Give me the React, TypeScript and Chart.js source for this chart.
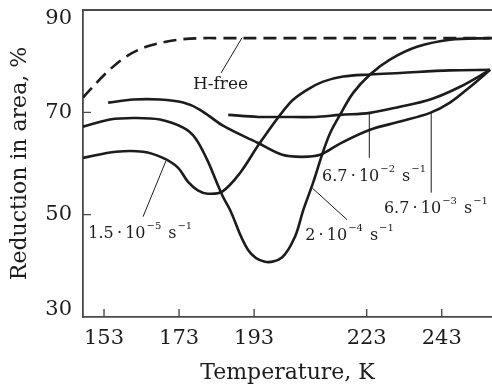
import React, { useEffect, useRef } from "react";
import { Chart, registerables } from "chart.js";

Chart.register(...registerables);

const FONT = '"DejaVu Serif", "Liberation Serif", serif';
const INK = "#1c1c1c";
const AXIS = "#4a4a4a";

// axes
const xMin = 147.4;
const xMax = 256.4;
const yMin = 30;
const yMax = 90;
const xTickValues = [153, 173, 193, 223, 243];
const yTickValues = [30, 50, 70, 90];

// H-free (dashed)
const hFreeT = [147.4, 153.6, 158.9, 164.2, 169.5, 174.1, 179.4, 184.0, 256.4];
const hFreeRA = [72.9, 77.7, 80.9, 82.8, 83.8, 84.3, 84.5, 84.5, 84.5];

// 1.5e-5 s^-1
const r15e5T = [147.4, 156.2, 163.4, 168.7, 172.7, 175.4, 178.1, 180.7, 184.5, 189.3, 194.6, 202.6, 207.1, 211.4, 216.7, 223.9, 231.9, 245.2, 255.9];
const r15e5RA = [61.1, 62.3, 62.3, 61.1, 59.2, 56.4, 54.7, 54.1, 54.5, 58.2, 64.1, 71.9, 74.4, 76.0, 77.0, 77.4, 77.7, 78.2, 78.3];

// 2e-4 s^-1
const r2e4T = [147.4, 154.6, 160.8, 167.9, 174.1, 177.3, 180.5, 183.1, 184.7, 186.6, 191.4, 195.9, 200.5, 203.9, 206.1, 208.7, 211.1, 213.3, 215.9, 219.4, 223.9, 229.2, 236.4, 245.2, 255.9];
const r2e4RA = [67.2, 68.6, 68.9, 68.6, 67.0, 65.0, 60.7, 56.2, 53.5, 50.9, 43.1, 40.8, 41.7, 45.7, 50.9, 56.2, 61.7, 66.0, 69.5, 73.8, 77.4, 80.3, 82.8, 84.2, 84.5];

// 6.7e-3 s^-1
const r67e3T = [154.1, 160.8, 167.9, 174.1, 178.6, 184.7, 193.8, 200.5, 205.8, 210.6, 215.9, 223.9, 231.9, 239.9, 245.2, 250.6, 255.9];
const r67e3RA = [71.9, 72.5, 72.5, 71.9, 70.5, 67.4, 64.1, 61.7, 61.3, 61.7, 63.9, 66.6, 68.2, 69.9, 71.9, 75.0, 78.3];

// 6.7e-2 s^-1
const r67e2T = [186.1, 194.1, 200.5, 209.3, 215.9, 223.9, 231.9, 239.9, 247.9, 255.9];
const r67e2RA = [69.5, 69.1, 69.1, 69.1, 69.5, 69.9, 71.1, 72.5, 75.0, 78.3];

// annotation labels (data coordinates: text start / baseline)
const rateLabels = [
  { mant: "1.5\u2009\u00b7\u200910", exp: "5", x: 148.8, y: 45.5 },
  { mant: "2\u2009\u00b7\u200910", exp: "4", x: 206.6, y: 45.1 },
  { mant: "6.7\u2009\u00b7\u200910", exp: "2", x: 211.1, y: 56.6 },
  { mant: "6.7\u2009\u00b7\u200910", exp: "3", x: 227.6, y: 50.4 },
];
const hFreeLabel = { text: "H-free", x: 176.7, y: 74.6 };
const leaders = [
  { x1: 189.8, y1: 84.6, x2: 184.2, y2: 77.7 },
  { x1: 169.5, y1: 60.5, x2: 163.4, y2: 49.6 },
  { x1: 208.5, y1: 55.2, x2: 217.8, y2: 49.0 },
  { x1: 223.7, y1: 70.1, x2: 223.7, y2: 61.1 },
  { x1: 240.2, y1: 69.9, x2: 240.2, y2: 54.3 },
];

const pts = (xs: number[], ys: number[]) => xs.map((x, i) => ({ x, y: ys[i] }));

const decor = {
  id: "decor",
  afterDraw(chart: any) {
    const { ctx, chartArea: a } = chart;
    const sx = chart.scales.x;
    const sy = chart.scales.y;
    ctx.save();
    // top frame
    ctx.strokeStyle = AXIS;
    ctx.lineWidth = 1.8;
    ctx.beginPath();
    ctx.moveTo(a.left - 0.9, a.top);
    ctx.lineTo(a.right, a.top);
    ctx.stroke();
    // inward tick marks
    ctx.lineWidth = 1.4;
    ctx.beginPath();
    for (const v of xTickValues) {
      const px = sx.getPixelForValue(v);
      ctx.moveTo(px, a.bottom);
      ctx.lineTo(px, a.bottom - 8);
    }
    for (const v of yTickValues) {
      if (v === yMin || v === yMax) continue;
      const py = sy.getPixelForValue(v);
      ctx.moveTo(a.left, py);
      ctx.lineTo(a.left + 8, py);
    }
    ctx.stroke();
    // y tick labels
    ctx.fillStyle = INK;
    ctx.font = `21px ${FONT}`;
    ctx.textAlign = "right";
    ctx.textBaseline = "middle";
    for (const v of yTickValues) {
      let py = sy.getPixelForValue(v);
      py = Math.min(Math.max(py, a.top + 9), a.bottom - 7);
      ctx.fillText(String(v), a.left - 11, py);
    }
    // leaders
    ctx.strokeStyle = INK;
    ctx.lineWidth = 1;
    ctx.beginPath();
    for (const l of leaders) {
      ctx.moveTo(sx.getPixelForValue(l.x1), sy.getPixelForValue(l.y1));
      ctx.lineTo(sx.getPixelForValue(l.x2), sy.getPixelForValue(l.y2));
    }
    ctx.stroke();
    // labels
    ctx.textAlign = "left";
    ctx.textBaseline = "alphabetic";
    ctx.font = `17px ${FONT}`;
    ctx.fillText(hFreeLabel.text, sx.getPixelForValue(hFreeLabel.x), sy.getPixelForValue(hFreeLabel.y));
    for (const r of rateLabels) {
      const x0 = sx.getPixelForValue(r.x);
      const y0 = sy.getPixelForValue(r.y);
      ctx.font = `16px ${FONT}`;
      ctx.fillText(r.mant, x0, y0);
      let cx = x0 + ctx.measureText(r.mant).width + 1;
      ctx.font = `10px ${FONT}`;
      const e = "\u2212" + r.exp;
      ctx.fillText(e, cx, y0 - 9);
      cx += ctx.measureText(e).width + 7;
      ctx.font = `16px ${FONT}`;
      ctx.fillText("s", cx, y0);
      cx += ctx.measureText("s").width + 1;
      ctx.font = `10px ${FONT}`;
      ctx.fillText("\u22121", cx, y0 - 9);
    }
    ctx.restore();
  },
};

export default function App() {
  const ref = useRef<HTMLCanvasElement | null>(null);
  useEffect(() => {
    if (!ref.current) return;
    const line = (xs: number[], ys: number[], dash: number[] = []) => ({
      data: pts(xs, ys),
      borderColor: INK,
      borderWidth: 2.6,
      borderDash: dash,
      pointRadius: 0,
      tension: 0.35,
      fill: false,
    });
    const chart = new Chart(ref.current, {
      type: "line",
      data: {
        datasets: [
          line(hFreeT, hFreeRA, [13, 7]),
          line(r15e5T, r15e5RA),
          line(r2e4T, r2e4RA),
          line(r67e3T, r67e3RA),
          line(r67e2T, r67e2RA),
        ],
      },
      options: {
        animation: false,
        responsive: false,
        maintainAspectRatio: false,
        layout: { padding: { top: 10, right: 0, left: 0, bottom: 0 } },
        plugins: { legend: { display: false }, tooltip: { enabled: false } },
        scales: {
          x: {
            type: "linear",
            min: xMin,
            max: xMax,
            afterBuildTicks: (s: any) => {
              s.ticks = xTickValues.map((v) => ({ value: v }));
            },
            afterFit: (s: any) => {
              s.height = 69;
            },
            grid: { display: false, drawTicks: false },
            border: { display: true, color: AXIS, width: 1.8 },
            ticks: {
              font: { family: FONT, size: 21 },
              color: INK,
              padding: 9,
              maxRotation: 0,
              autoSkip: false,
              callback: (v: any) => String(v),
            },
            title: {
              display: true,
              text: "Temperature, K",
              font: { family: FONT, size: 22 },
              color: INK,
              padding: { top: 0, bottom: 0 },
            },
          },
          y: {
            type: "linear",
            min: yMin,
            max: yMax,
            afterBuildTicks: (s: any) => {
              s.ticks = yTickValues.map((v) => ({ value: v }));
            },
            afterFit: (s: any) => {
              s.width = 83;
            },
            grid: { display: false, drawTicks: false },
            border: { display: true, color: AXIS, width: 1.8 },
            ticks: { display: false },
            title: {
              display: true,
              text: "Reduction in area, %",
              font: { family: FONT, size: 22 },
              color: INK,
              padding: { top: 7, bottom: 0 },
            },
          },
        },
      },
      plugins: [decor],
    });
    return () => chart.destroy();
  }, []);
  return (
    <div style={{ position: "absolute", left: 0, top: 0, width: 492, height: 386, background: "#fff" }}>
      <canvas ref={ref} width={492} height={386} style={{ display: "block" }} />
    </div>
  );
}
